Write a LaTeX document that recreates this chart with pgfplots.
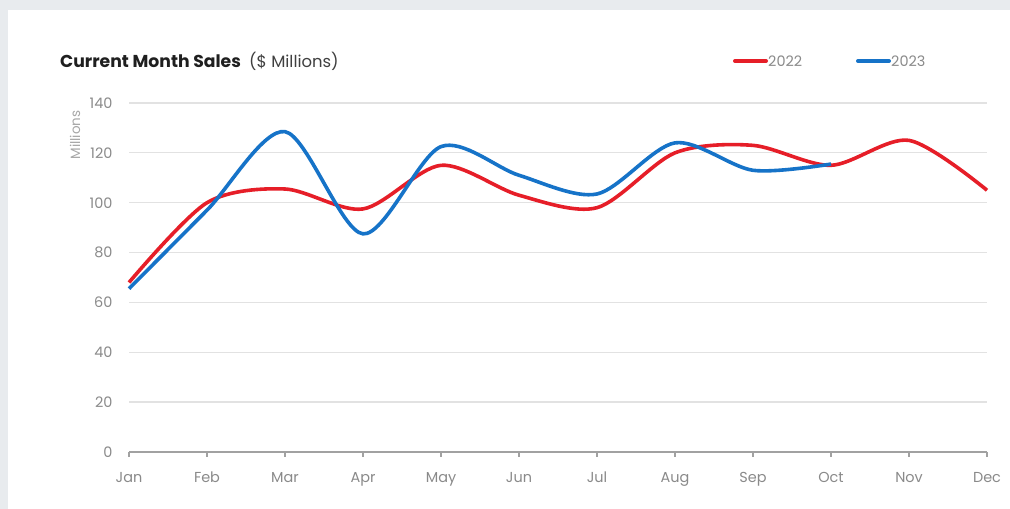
\documentclass[border=0pt]{standalone}
\usepackage{pgfplots}
\pgfplotsset{compat=1.18}
\usepackage{fontspec}
\setmainfont{Poppins}
\definecolor{bgc}{HTML}{E8EBEE}
\definecolor{redc}{HTML}{E61E28}
\definecolor{bluec}{HTML}{1673C8}
\definecolor{tickc}{HTML}{8A8A8A}
\definecolor{gridc}{HTML}{E2E2E2}
\begin{document}
\begin{tikzpicture}[x=1bp,y=1bp]
\fill[bgc] (0,0) rectangle (1010,509);
\fill[white] (8,0) rectangle (1010,499);
\useasboundingbox (0,0) rectangle (1010,509);
\begin{axis}[
  at={(129bp,57bp)}, anchor=south west,
  scale only axis, width=858bp, height=349bp,
  xmin=0, xmax=11, ymin=0, ymax=140,
  xtick={0,...,11},
  xticklabels={Jan,Feb,Mar,Apr,May,Jun,Jul,Aug,Sep,Oct,Nov,Dec},
  ytick={0,20,...,140},
  axis lines=left,
  x axis line style={-, draw=tickc!80, line width=1.4bp},
  y axis line style={draw=none},
  xtick style={draw=tickc!80, line width=1.2bp},
  ytick style={draw=none},
  major tick length=5bp,
  tick align=outside,
  ymajorgrids,
  grid style={gridc, line width=1.3bp},
  /pgf/number format/assume math mode=true,
  tick label style={font=\fontsize{14.5}{16}\selectfont, text=tickc},
  xticklabel style={anchor=base, yshift=-26bp},
  yticklabel style={xshift=-8bp},
  clip=false,
]
\addplot[redc, line width=3.6bp, smooth, tension=0.5] coordinates {
 (0,68) (1,100) (2,105.5) (3,97.5) (4,115) (5,103) (6,98) (7,120) (8,123) (9,115) (10,125) (11,105)
};
\addplot[bluec, line width=3.6bp, smooth, tension=0.5] coordinates {
 (0,65.5) (1,97) (2,128.5) (3,87.5) (4,122.5) (5,111) (6,103.5) (7,124) (8,113) (9,115.5)
};
\end{axis}
\node[anchor=base west, inner sep=0pt, font=\fontsize{17.3}{20}\selectfont\bfseries, text=black!88] at (60,441) {Current Month Sales};
\node[anchor=base west, inner sep=0pt, font=\fontsize{16.5}{20}\selectfont, text=black!75] at (249,441) {(\$ Millions)};
\draw[redc, line width=4bp, line cap=round] (735,448) -- (766,448);
\node[anchor=west, inner sep=0pt, font=\fontsize{14.5}{16}\selectfont, text=tickc] at (768,448) {2022};
\draw[bluec, line width=4bp, line cap=round] (858,448) -- (889,448);
\node[anchor=west, inner sep=0pt, font=\fontsize{14.5}{16}\selectfont, text=tickc] at (891,448) {2023};
\node[rotate=90, inner sep=0pt, font=\fontsize{13.5}{15}\selectfont, text=tickc!75] at (75,374) {Millions};
\end{tikzpicture}
\end{document}
